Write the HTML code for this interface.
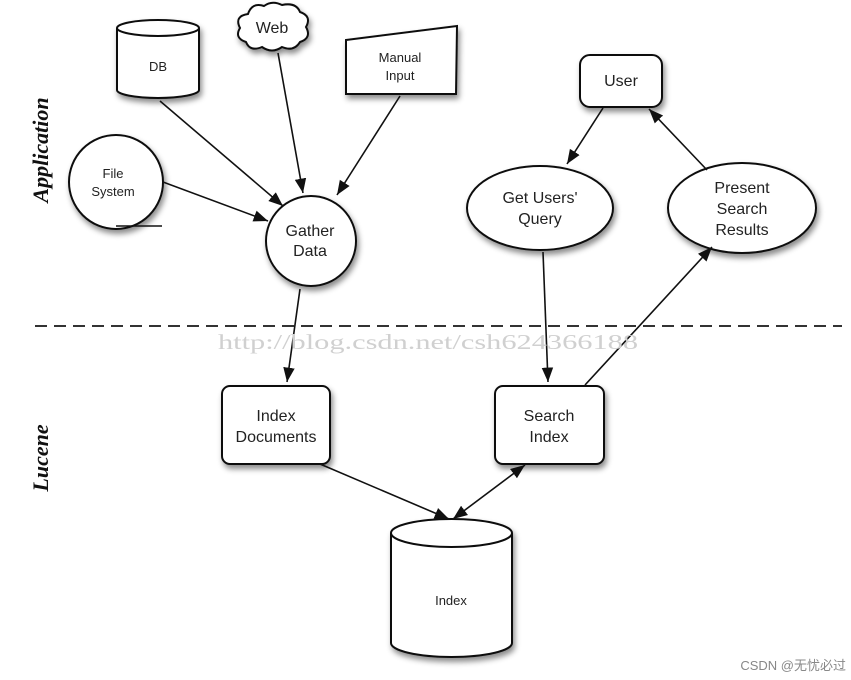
<!DOCTYPE html>
<html><head><meta charset="utf-8"><style>
html,body{margin:0;padding:0;background:#fff;}
svg{display:block;}
text{font-family:"Liberation Sans",sans-serif;fill:#222;}
</style></head><body>
<svg width="851" height="680" viewBox="0 0 851 680" xmlns="http://www.w3.org/2000/svg">
<defs>
<marker id="a" viewBox="0 0 10 10" refX="10" refY="5" markerWidth="9" markerHeight="9" orient="auto-start-reverse"><path d="M0,1 L10,5 L0,9 z" fill="#111"/></marker>
<filter id="s" x="-20%" y="-20%" width="150%" height="150%"><feDropShadow dx="2" dy="4" stdDeviation="3" flood-color="#000" flood-opacity="0.45"/></filter>
</defs>
<g stroke="#111" stroke-width="2" fill="#fff" filter="url(#s)">
<path d="M117,28 L117,90 A41,8 0 0 0 199,90 L199,28"/>
<ellipse cx="158" cy="28" rx="41" ry="8"/>
<path d="M248,14 Q252,2 264,6 Q272,0 282,5 Q296,2 300,12 Q312,16 306,27 Q312,38 300,42 Q294,52 282,47 Q272,54 262,47 Q250,52 246,42 Q234,38 240,28 Q234,16 248,14 z"/>
<path d="M346,40 L457,26 L456,94 L346,94 z"/>
<circle cx="116" cy="182" r="47"/>
<circle cx="311" cy="241" r="45"/>
<rect x="580" y="55" width="82" height="52" rx="10"/>
<ellipse cx="540" cy="208" rx="73" ry="42"/>
<ellipse cx="742" cy="208" rx="74" ry="45"/>
<rect x="222" y="386" width="108" height="78" rx="8"/>
<rect x="495" y="386" width="109" height="78" rx="8"/>
<path d="M391,533 L391,643 A60.5,14 0 0 0 512,643 L512,533"/>
<ellipse cx="451.5" cy="533" rx="60.5" ry="14"/>
</g>
<line x1="116" y1="226" x2="162" y2="226" stroke="#111" stroke-width="1.5"/>
<line x1="35" y1="326" x2="842" y2="326" stroke="#333" stroke-width="2" stroke-dasharray="12,7"/>
<g stroke="#111" stroke-width="1.6" fill="none">
<line x1="160" y1="101" x2="283" y2="206" marker-end="url(#a)"/>
<line x1="278" y1="53" x2="303" y2="193" marker-end="url(#a)"/>
<line x1="400" y1="96" x2="337" y2="195" marker-end="url(#a)"/>
<line x1="163" y1="182" x2="268" y2="221" marker-end="url(#a)"/>
<line x1="300" y1="289" x2="287" y2="382" marker-end="url(#a)"/>
<line x1="603" y1="108" x2="567" y2="164" marker-end="url(#a)"/>
<line x1="707" y1="170" x2="649" y2="109" marker-end="url(#a)"/>
<line x1="543" y1="252" x2="548" y2="382" marker-end="url(#a)"/>
<line x1="585" y1="385" x2="712" y2="247" marker-end="url(#a)"/>
<line x1="320" y1="464" x2="449" y2="519" marker-end="url(#a)"/>
<line x1="525" y1="465" x2="453" y2="519" marker-start="url(#a)" marker-end="url(#a)"/>
</g>
<text x="218" y="349" textLength="420" lengthAdjust="spacingAndGlyphs" font-size="21" style="fill:#d0d0d0;font-family:'Liberation Serif',serif">http://blog.csdn.net/csh624366188</text>
<g font-size="13" text-anchor="middle">
<text x="158" y="71">DB</text>
<text x="272" y="33" font-size="16">Web</text>
<text x="400" y="62" font-size="13">Manual</text>
<text x="400" y="80" font-size="13">Input</text>
<text x="113" y="178">File</text>
<text x="113" y="196">System</text>
<text x="310" y="236" font-size="16">Gather</text>
<text x="310" y="256" font-size="16">Data</text>
<text x="621" y="86" font-size="16">User</text>
<text x="540" y="203" font-size="16">Get Users'</text>
<text x="540" y="224" font-size="16">Query</text>
<text x="742" y="193" font-size="16">Present</text>
<text x="742" y="214" font-size="16">Search</text>
<text x="742" y="235" font-size="16">Results</text>
<text x="276" y="421" font-size="16">Index</text>
<text x="276" y="442" font-size="16">Documents</text>
<text x="549" y="421" font-size="16">Search</text>
<text x="549" y="442" font-size="16">Index</text>
<text x="451" y="605" font-size="13">Index</text>
</g>
<text transform="translate(48,150) rotate(-90)" text-anchor="middle" font-size="22" font-weight="bold" font-style="italic" style="font-family:'Liberation Serif',serif;fill:#111">Application</text>
<text transform="translate(48,458) rotate(-90)" text-anchor="middle" font-size="22" font-weight="bold" font-style="italic" style="font-family:'Liberation Serif',serif;fill:#111">Lucene</text>
<text x="846" y="670" text-anchor="end" font-size="13" style="fill:#888;font-family:'Liberation Sans','Noto Sans CJK SC',sans-serif">CSDN @无忧必过</text>
</svg>
</body></html>
